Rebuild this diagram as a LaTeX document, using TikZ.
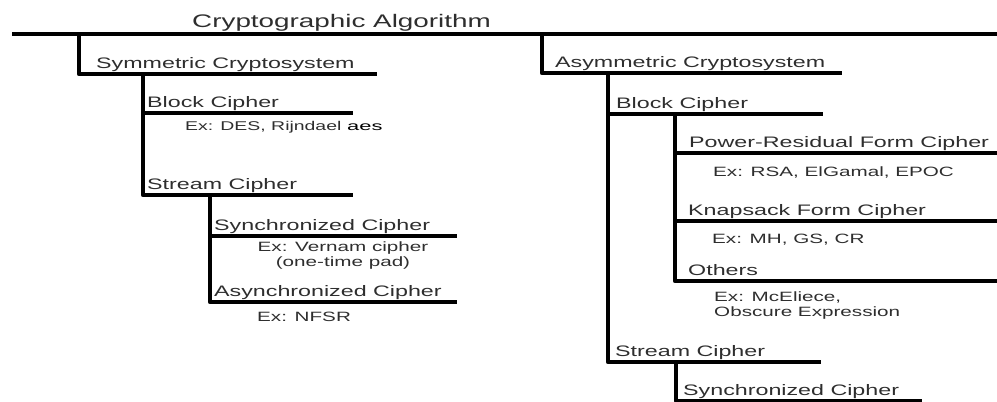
\documentclass[tikz,border=0pt]{standalone}
\usepackage{fontspec}
\setmainfont[FakeStretch=1.53]{Liberation Sans}
\newfontfamily\aesfont[FakeStretch=1.75]{Liberation Sans}
\definecolor{txtgray}{HTML}{2E2E2E}
\begin{document}
\begin{tikzpicture}[x=1pt,y=-1pt,
  branch/.style={line width=4.4pt, line join=round, line cap=butt},
  head/.style={anchor=base west, inner sep=0pt, text=txtgray, font=\fontsize{15.2}{18}\selectfont},
  titletext/.style={anchor=base west, inner sep=0pt, text=txtgray, font=\fontsize{18.2}{22}\selectfont},
  extext/.style={anchor=base west, inner sep=0pt, text=txtgray, font=\fontsize{13.5}{16}\selectfont},
  excenter/.style={anchor=base, inner sep=0pt, text=txtgray, font=\fontsize{13.5}{16}\selectfont},
  aestext/.style={anchor=base west, inner sep=0pt, text=black, font=\aesfont\fontsize{12.5}{15}\selectfont}
  ]
\useasboundingbox (0,0) rectangle (997,402);

% coordinates of the tree
\coordinate (rootL) at (12,34);
\coordinate (rootR) at (997,34);
\coordinate (symTop) at (79,34);
\coordinate (symEnd) at (377,74);
\coordinate (symBlkTop) at (143,74);
\coordinate (symBlkEnd) at (353,113);
\coordinate (symBlkMid) at (143,113);
\coordinate (symStrEnd) at (353,195);
\coordinate (symSyncTop) at (210,195);
\coordinate (symSyncEnd) at (457,236);
\coordinate (symSyncMid) at (210,236);
\coordinate (symAsyncEnd) at (457,302);
\coordinate (asymTop) at (542,34);
\coordinate (asymEnd) at (842,73);
\coordinate (asymBlkTop) at (608,73);
\coordinate (asymBlkEnd) at (823,114);
\coordinate (asymBlkMid) at (608,114);
\coordinate (asymStrEnd) at (821,362);
\coordinate (prTop) at (675,114);
\coordinate (prEnd) at (997,153);
\coordinate (prMid) at (675,153);
\coordinate (knEnd) at (997,221);
\coordinate (knMid) at (675,221);
\coordinate (otEnd) at (997,281);
\coordinate (asymSyncTop) at (676,362);
\coordinate (asymSyncEnd) at (922,401);

% lines
\draw[branch] (rootL) -- (rootR);
\draw[branch] (symTop) |- (symEnd);
\draw[branch] (symBlkTop) |- (symBlkEnd);
\draw[branch] (symBlkMid) |- (symStrEnd);
\draw[branch] (symSyncTop) |- (symSyncEnd);
\draw[branch] (symSyncMid) |- (symAsyncEnd);
\draw[branch] (asymTop) |- (asymEnd);
\draw[branch] (asymBlkTop) |- (asymBlkEnd);
\draw[branch] (asymBlkMid) |- (asymStrEnd);
\draw[branch] (prTop) |- (prEnd);
\draw[branch] (prMid) |- (knEnd);
\draw[branch] (knMid) |- (otEnd);
\draw[branch] (asymSyncTop) |- (asymSyncEnd);

% texts
\node[titletext] (title) at (192,27) {Cryptographic Algorithm};
\node[head] (sym) at (96,68) {Symmetric Cryptosystem};
\node[head] (symblk) at (147,107) {Block Cipher};
\node[extext, font=\fontsize{12.7}{15}\selectfont] (symblkex) at (185,130) {Ex: DES, Rijndael};
\node[aestext] (aes) at (347,130) {aes};
\node[head] (symstr) at (147,189) {Stream Cipher};
\node[head] (symsync) at (214,230) {Synchronized Cipher};
\node[excenter] (vern1) at (343,251) {Ex: Vernam cipher};
\node[excenter] (vern2) at (343,266) {(one-time pad)};
\node[head] (symasync) at (214,296) {Asynchronized Cipher};
\node[extext] (nfsr) at (257,321) {Ex: NFSR};
\node[head] (asym) at (555,67) {Asymmetric Cryptosystem};
\node[head] (asymblk) at (616,108) {Block Cipher};
\node[head] (pr) at (689,147) {Power-Residual Form Cipher};
\node[extext] (prex) at (713,176) {Ex: RSA, ElGamal, EPOC};
\node[head] (kn) at (688,215) {Knapsack Form Cipher};
\node[extext] (knex) at (712,243) {Ex: MH, GS, CR};
\node[head] (ot) at (688,275) {Others};
\node[extext] (otex1) at (714,301) {Ex: McEliece,};
\node[extext] (otex2) at (714,316) {Obscure Expression};
\node[head] (asymstr) at (615,356) {Stream Cipher};
\node[head] (asymsync) at (683,395) {Synchronized Cipher};
\end{tikzpicture}
\end{document}
